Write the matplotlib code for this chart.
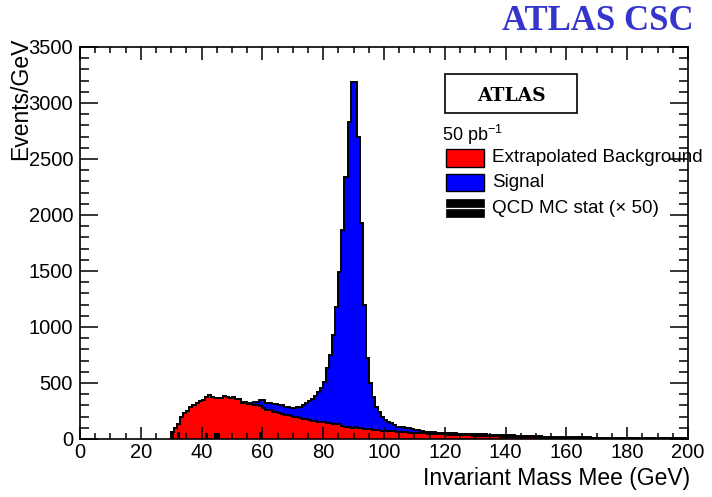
import numpy as np
import matplotlib
matplotlib.use('Agg')
import matplotlib.pyplot as plt
from matplotlib.patches import Rectangle
from matplotlib.ticker import MultipleLocator

plt.rcParams['font.family'] = ['Liberation Sans', 'DejaVu Sans']
plt.rcParams['mathtext.fontset'] = 'custom'
plt.rcParams['mathtext.rm'] = 'Liberation Sans'
plt.rcParams['mathtext.it'] = 'Liberation Sans:italic'

# 1 GeV bins from 30 to 200 GeV
edges = np.arange(30, 201)

# extrapolated background (events/GeV), one value per bin
background = [
    65, 95, 134, 199, 229, 253, 289, 304, 324, 335,
    348, 372, 393, 378, 363, 363, 365, 384, 375, 363,
    378, 360, 354, 318, 318, 312, 310, 304, 300, 295,
    280, 259, 255, 244, 240, 229, 225, 214, 210, 203,
    199, 192, 185, 182, 176, 172, 165, 163, 156, 154,
    148, 146, 140, 138, 135, 130, 116, 110, 105, 100,
    105, 98, 100, 92, 90, 85, 80, 82, 78, 75,
    72, 70, 68, 70, 66, 65, 62, 60, 58, 57,
    55, 53, 52, 50, 48, 46, 45, 44, 42, 41,
    40, 39, 38, 37, 36, 35, 34, 33, 32, 31,
    30, 29, 28, 27, 26, 25, 24, 23, 22, 21,
    20, 20, 19, 18, 17, 16, 16, 15, 14, 14,
    13, 12, 12, 11, 10, 10, 9, 9, 8, 8,
    7, 7, 8, 9, 9, 6, 5, 5, 6, 4,
    4, 3, 3, 3, 3, 2, 2, 2, 2, 2,
    2, 2, 2, 2, 2, 2, 2, 2, 2, 2,
    2, 2, 1, 1, 1, 1, 1, 1, 1, 1,
]

# Z -> ee signal stacked on top of the background
signal = [
    0, 0, 0, 0, 0, 0, 0, 0, 0, 0,
    0, 0, 0, 0, 0, 0, 0, 0, 0, 0,
    0, 0, 0, 15, 15, 12, 14, 29, 33, 53,
    68, 59, 63, 68, 72, 75, 79, 75, 79, 71,
    75, 91, 104, 118, 142, 163, 189, 217, 267, 298,
    364, 485, 610, 791, 1046, 1364, 1750, 2232, 2728, 3090,
    3085, 2601, 1826, 1104, 630, 412, 298, 207, 166, 124,
    98, 80, 72, 55, 44, 39, 42, 40, 37, 33,
    25, 25, 20, 15, 17, 16, 15, 14, 15, 14,
    14, 14, 15, 14, 13, 14, 14, 15, 14, 14,
    14, 14, 13, 14, 14, 14, 14, 13, 14, 14,
    14, 13, 13, 13, 13, 13, 12, 12, 12, 11,
    11, 11, 10, 11, 11, 10, 11, 10, 10, 10,
    10, 10, 8, 7, 6, 9, 9, 9, 7, 9,
    8, 9, 9, 8, 8, 9, 8, 8, 8, 8,
    8, 7, 7, 7, 7, 7, 6, 6, 6, 6,
    6, 6, 6, 6, 6, 6, 6, 6, 5, 5,
]

# QCD MC statistical error (x50), drawn as small black boxes
qcd_bins = [30, 32, 41, 44, 45, 59, 155, 156, 157, 167, 168, 171]
qcd_err = [60, 60, 58, 58, 58, 60, 10, 10, 10, 10, 10, 10]

x_ticks_major = np.arange(0, 201, 20)
y_ticks_major = np.arange(0, 3501, 500)

W, H = 712, 497
fig = plt.figure(figsize=(W / 100, H / 100), dpi=100)


def fx(px):
    return px / W


def fy(py):
    return 1 - py / H


ax = fig.add_axes([fx(80), fy(439), fx(688) - fx(80), fy(47) - fy(439)])

bkg = np.array(background, dtype=float)
total = bkg + np.array(signal, dtype=float)

ax.stairs(total, edges, baseline=0, fill=True, color='#0000ff', zorder=1)
ax.stairs(total, edges, baseline=0, color='black', lw=1.4, zorder=1.1)
ax.stairs(bkg, edges, baseline=0, fill=True, color='#ff0000', zorder=1.2)
ax.stairs(bkg, edges, baseline=0, color='black', lw=1.4, zorder=1.3)
ax.bar(np.array(qcd_bins) + 0.5, qcd_err, width=1.0, color='black', zorder=1.4)

ax.set_xlim(0, 200)
ax.set_ylim(0, 3500)
ax.set_xticks(x_ticks_major)
ax.set_yticks(y_ticks_major)
ax.xaxis.set_minor_locator(MultipleLocator(5))
ax.yaxis.set_minor_locator(MultipleLocator(100))
ax.tick_params(which='both', direction='in', top=True, right=True,
               width=1.1, labelsize=14.5, colors='black')
ax.tick_params(axis='x', which='major', length=9, pad=3)
ax.tick_params(axis='x', which='minor', length=4.5)
ax.tick_params(axis='y', which='major', length=13, pad=5)
ax.tick_params(axis='y', which='minor', length=6.5)
for s in ax.spines.values():
    s.set_linewidth(1.2)

fig.text(fx(21), fy(38), 'Events/GeV', rotation=90, ha='center', va='top',
         fontsize=16.5)
fig.text(fx(690), fy(479), 'Invariant Mass Mee (GeV)', ha='right',
         va='center', fontsize=16.5)
fig.text(fx(694), fy(22), 'ATLAS CSC', ha='right', va='center',
         family='Liberation Serif', fontweight='bold', fontsize=25,
         color='#3535cc')

# ATLAS box and legend
fig.patches.append(Rectangle((fx(445), fy(113)), fx(577) - fx(445),
                             fy(74) - fy(113), transform=fig.transFigure,
                             fc='white', ec='black', lw=1.2))
fig.text(fx(511), fy(96), 'ATLAS', ha='center', va='center',
         family='DejaVu Serif', fontweight='bold', fontsize=13.5)
fig.text(fx(442), fy(135), r'50 pb$^{\mathregular{-1}}$', ha='left',
         va='center', fontsize=13)

legend_rows = [('Extrapolated Background', '#ff0000', 149, 167),
               ('Signal', '#0000ff', 174, 191)]
for label, col, top, bot in legend_rows:
    fig.patches.append(Rectangle((fx(446), fy(bot)), fx(484) - fx(446),
                                 fy(top) - fy(bot), transform=fig.transFigure,
                                 fc=col, ec='black', lw=1.0))
    fig.text(fx(492), fy((top + bot) / 2), label, ha='left', va='center',
             fontsize=13.6)
for top, bot in [(199, 207), (209, 217)]:
    fig.patches.append(Rectangle((fx(446), fy(bot)), fx(484) - fx(446),
                                 fy(top) - fy(bot), transform=fig.transFigure,
                                 fc='black', ec='black', lw=0.5))
fig.text(fx(492), fy(208), 'QCD MC stat (\u00d7 50)', ha='left', va='center',
         fontsize=13.6)

fig.savefig('out.png', dpi=100)
